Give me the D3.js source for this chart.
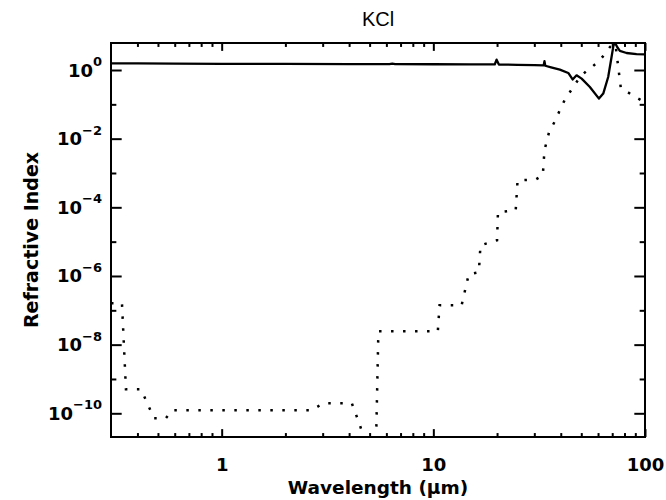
<!DOCTYPE html>
<html>
<head>
<meta charset="utf-8">
<script src="https://cdn.jsdelivr.net/npm/d3@7"></script>
<style>
  html, body { margin: 0; padding: 0; background: #fff; }
  svg { display: block; }
  .lbl { font-family: "DejaVu Sans", sans-serif; font-weight: bold; fill: #000; }
</style>
</head>
<body>
<svg id="chart" width="666" height="500"></svg>
<script>
// Real part n of the KCl refractive index versus wavelength (µm)
const nWave = [0.3, 0.4, 0.6, 1, 2, 4, 6.2, 6.4, 6.6, 10, 15, 19.5, 19.9, 20.4, 25, 30, 33.2, 33.5, 33.8, 36, 39.6, 43.4, 45.5, 47.5, 50.2, 54.9, 60.6, 63.5, 67, 69.5, 71, 72.5, 74, 76.1, 81.8, 91.2, 100];
const nReal = [1.57, 1.55, 1.53, 1.51, 1.5, 1.49, 1.48, 1.53, 1.48, 1.47, 1.46, 1.45, 2.0, 1.44, 1.42, 1.39, 1.36, 1.8, 1.33, 1.2, 1.03, 0.82, 0.53, 0.70, 0.56, 0.32, 0.147, 0.206, 0.625, 2.39, 5.3, 5.9, 4.6, 3.6, 3.13, 2.92, 2.85];

// Imaginary part k (absorption index)
const kWave = [0.3, 0.338, 0.353, 0.416, 0.479, 0.545, 0.582, 2.67, 3.01, 4.12, 4.50, 4.80, 5.36, 5.50, 10.5, 10.7, 13.6, 14.7, 16.4, 16.7, 20.0, 20.2, 24.5, 25.0, 30.5, 32.9, 33.5, 35.2, 37.5, 39.6, 41.8, 45.0, 49.3, 52.9, 56.9, 61.2, 64.7, 68.3, 71.3, 72.8, 76.9, 83.0, 90.6, 100];
const kImag = [1.6e-7, 1.6e-7, 5.0e-10, 5.0e-10, 7.2e-11, 7.2e-11, 1.22e-10, 1.22e-10, 1.96e-10, 1.96e-10, 4.5e-11, 1.2e-11, 1.2e-11, 2.45e-8, 2.45e-8, 1.4e-7, 1.4e-7, 1.12e-6, 1.28e-6, 7.8e-6, 1.1e-5, 7.2e-5, 8.2e-5, 6.1e-4, 6.5e-4, 8.6e-4, 4.6e-3, 0.0153, 0.032, 0.067, 0.137, 0.27, 0.625, 0.935, 1.31, 1.92, 3.0, 4.68, 5.8, 4.6, 0.293, 0.224, 0.16, 0.115];

// Axis ticks
const xMajor = [1, 10, 100];
const xLabels = ["1", "10", "100"];
const xMinor = [0.4, 0.5, 0.6, 0.7, 0.8, 0.9, 2, 3, 4, 5, 6, 7, 8, 9, 20, 30, 40, 50, 60, 70, 80, 90];
const yMajor = [1, 1e-2, 1e-4, 1e-6, 1e-8, 1e-10];
const yExponents = ["0", "\u22122", "\u22124", "\u22126", "\u22128", "\u221210"];
const yMinor = [1e-1, 1e-3, 1e-5, 1e-7, 1e-9];

const titleText = "KCl";
const xTitle = "Wavelength (\u03bcm)";
const yTitle = "Refractive Index";

const margin = { left: 111, right: 21, top: 43, bottom: 63 };
const W = 666, H = 500;
const pw = W - margin.left - margin.right;
const ph = H - margin.top - margin.bottom;

const svg = d3.select("#chart");
const x = d3.scaleLog().domain([0.3, 100]).range([margin.left, margin.left + pw]);
const y = d3.scaleLog().domain([2.04e-11, 6.12]).range([margin.top + ph, margin.top]);

svg.append("defs").append("clipPath").attr("id", "plot-clip")
  .append("rect").attr("x", margin.left).attr("y", margin.top).attr("width", pw).attr("height", ph);

// Tick lengths scale with the opposite dimension of the plot
const xMajLen = 0.02 * ph, xMinLen = xMajLen / 2;
const yMajLen = 0.02 * pw, yMinLen = yMajLen / 2;

function styleAxis(g) {
  g.select(".domain").remove();
  g.selectAll(".tick line").attr("stroke", "#000").attr("stroke-width", 2);
}

// bottom + top axes
svg.append("g").attr("transform", `translate(0,${margin.top + ph})`)
  .call(d3.axisBottom(x).tickValues(xMajor).tickSize(-xMajLen).tickPadding(21).tickFormat((d, i) => xLabels[i]))
  .call(styleAxis)
  .call(g => g.selectAll("text").attr("class", "lbl").attr("fill", null).style("font-size", "18px"));
svg.append("g").attr("transform", `translate(0,${margin.top + ph})`)
  .call(d3.axisBottom(x).tickValues(xMinor).tickSize(-xMinLen).tickFormat(""))
  .call(styleAxis);
svg.append("g").attr("transform", `translate(0,${margin.top})`)
  .call(d3.axisTop(x).tickValues(xMajor).tickSize(-xMajLen).tickFormat(""))
  .call(styleAxis);
svg.append("g").attr("transform", `translate(0,${margin.top})`)
  .call(d3.axisTop(x).tickValues(xMinor).tickSize(-xMinLen).tickFormat(""))
  .call(styleAxis);

// left + right axes
const yAxisG = svg.append("g").attr("transform", `translate(${margin.left},0)`)
  .call(d3.axisLeft(y).tickValues(yMajor).tickSize(-yMajLen).tickFormat(""))
  .call(styleAxis);
yAxisG.selectAll(".tick").each(function (d, i) {
  const t = d3.select(this).append("text")
    .attr("class", "lbl")
    .attr("x", -9).attr("y", 0).attr("dy", "0.6em")
    .attr("text-anchor", "end");
  t.append("tspan").style("font-size", "18px").text("10");
  t.append("tspan").style("font-size", "13px").attr("dy", "-0.8em").text(yExponents[i]);
});
svg.append("g").attr("transform", `translate(${margin.left},0)`)
  .call(d3.axisLeft(y).tickValues(yMinor).tickSize(-yMinLen).tickFormat(""))
  .call(styleAxis);
svg.append("g").attr("transform", `translate(${margin.left + pw},0)`)
  .call(d3.axisRight(y).tickValues(yMajor).tickSize(-yMajLen).tickFormat(""))
  .call(styleAxis);
svg.append("g").attr("transform", `translate(${margin.left + pw},0)`)
  .call(d3.axisRight(y).tickValues(yMinor).tickSize(-yMinLen).tickFormat(""))
  .call(styleAxis);

// curves
const plot = svg.append("g").attr("clip-path", "url(#plot-clip)");
const nPts = nWave.map((w, i) => [w, nReal[i]]);
const kPts = kWave.map((w, i) => [w, kImag[i]]);
const line = d3.line().x(d => x(d[0])).y(d => y(d[1]));

plot.append("path").datum(nPts).attr("d", line)
  .attr("fill", "none").attr("stroke", "#000").attr("stroke-width", 2.3).attr("stroke-linejoin", "round");
plot.append("path").datum(kPts).attr("d", line)
  .attr("fill", "none").attr("stroke", "#000").attr("stroke-width", 2.5)
  .attr("stroke-dasharray", "2.5 9.5");

// frame
svg.append("rect").attr("x", margin.left).attr("y", margin.top).attr("width", pw).attr("height", ph)
  .attr("fill", "none").attr("stroke", "#000").attr("stroke-width", 2);

// titles
svg.append("text").attr("x", margin.left + pw / 2).attr("y", 26)
  .attr("text-anchor", "middle")
  .style("font-family", "'Liberation Sans', Arial, sans-serif").style("font-size", "20px")
  .text(titleText);
svg.append("text").attr("x", margin.left + pw / 2).attr("y", 494)
  .attr("text-anchor", "middle").attr("class", "lbl")
  .style("font-size", "18.5px")
  .text(xTitle);
svg.append("text").attr("transform", `translate(38,${margin.top + ph / 2}) rotate(-90)`)
  .attr("text-anchor", "middle").attr("class", "lbl")
  .style("font-size", "19px")
  .text(yTitle);
</script>
</body>
</html>
